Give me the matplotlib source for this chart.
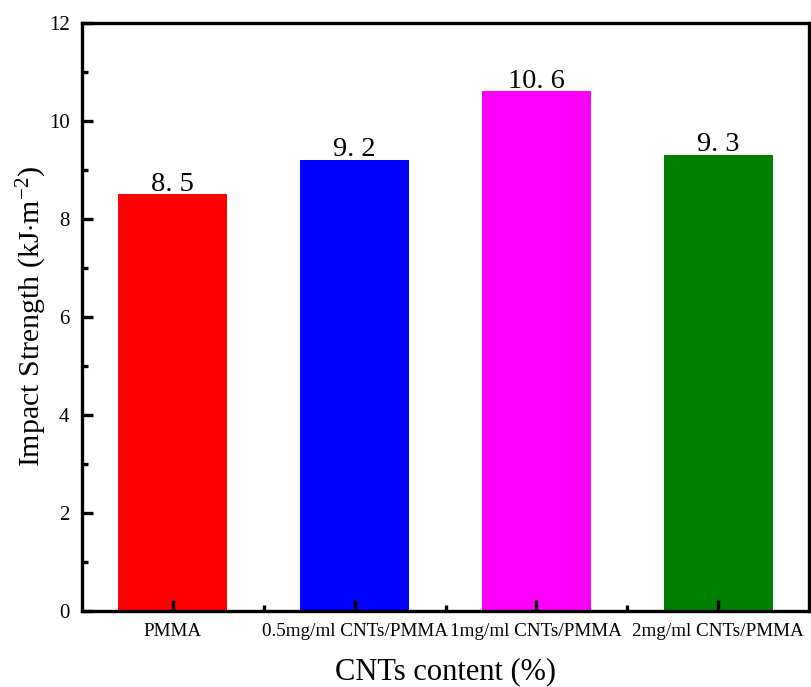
import matplotlib
matplotlib.use('Agg')
import matplotlib.pyplot as plt
from matplotlib.ticker import MultipleLocator, FixedLocator

# - Data
samples = ['PMMA', '0.5mg/ml CNTs/PMMA', '1mg/ml CNTs/PMMA', '2mg/ml CNTs/PMMA']
impact_strength = [8.5, 9.2, 10.6, 9.3]
bar_colors = ['#FF0000', '#0000FF', '#FF00FF', '#008000']

plt.rcParams['font.family'] = 'Liberation Serif'
plt.rcParams['mathtext.fontset'] = 'custom'
plt.rcParams['mathtext.rm'] = 'Liberation Serif'
plt.rcParams['mathtext.it'] = 'Liberation Serif:italic'

fig = plt.figure(figsize=(8.11, 6.87), dpi=100)
ax = fig.add_axes([82/811, 1 - 611/687, 727/811, (611 - 22.5)/687])

pos = list(range(len(samples)))
bars = ax.bar(pos, impact_strength, width=0.6, color=bar_colors, linewidth=0)

# - Etiquetas de valores
for b, v in zip(bars, impact_strength):
    txt = f'{v:.1f}'.replace('.', '. ')
    ax.annotate(txt, (b.get_x() + b.get_width()/2, v), xytext=(0, 2.5),
                textcoords='offset points', ha='center', va='baseline',
                fontsize=20.5)

ax.set_xlim(-0.5, 3.5)
ax.set_ylim(0, 12)
ax.set_xticks(pos)
ax.set_xticklabels(samples)
ax.xaxis.set_minor_locator(FixedLocator([0.5, 1.5, 2.5]))
ax.yaxis.set_major_locator(MultipleLocator(2))
ax.yaxis.set_minor_locator(MultipleLocator(1))

for s in ax.spines.values():
    s.set_linewidth(2.4)
ax.tick_params(which='both', direction='in', width=2.4, top=False, right=False)
ax.tick_params(which='major', length=8)
ax.tick_params(which='minor', length=4.5)
ax.tick_params(axis='y', which='major', labelsize=15, pad=9)
ax.tick_params(axis='x', which='major', labelsize=13.8, pad=9)

ax.set_xlabel('CNTs content (%)', fontsize=22, labelpad=12)
ax.set_ylabel('Impact Strength (kJ$\\cdot$m$^{\\mathregular{-2}}$)', fontsize=21.5, labelpad=0)

plt.savefig('out.png', dpi=100)
plt.close()
